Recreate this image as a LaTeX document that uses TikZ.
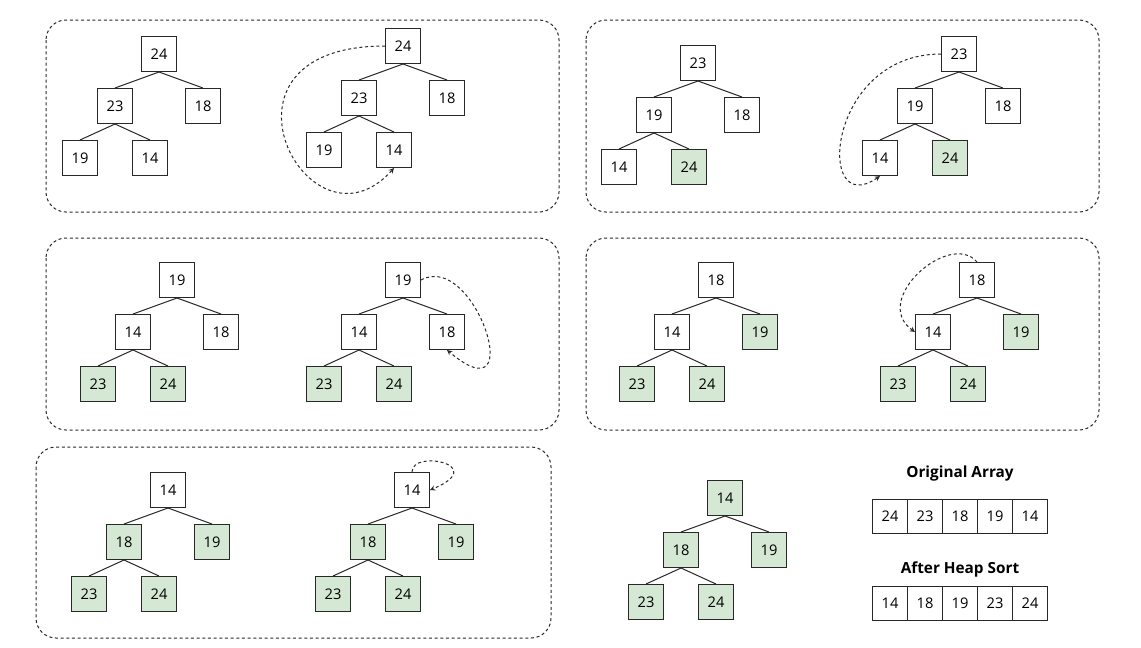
\documentclass[tikz,border=0pt]{standalone}
\usepackage{fontspec}
\setmainfont{Open Sans}
\usepackage{tikz}
\usetikzlibrary{positioning}
\definecolor{doneColor}{HTML}{D5E8D4}
\definecolor{boxLine}{RGB}{40,40,40}
\tikzstyle{pixels} = [x = .75pt, y = -.75pt]
\tikzstyle{heapBox} = [draw=boxLine, fill=white, line width=.75pt, minimum size=26.25pt, inner sep=0pt, font=\fontsize{11}{13}\selectfont]
\tikzstyle{treeEdge} = [draw=boxLine, line width=.75pt]
\tikzstyle{panelStyle} = [draw=boxLine, dash pattern=on 2.25pt off 2pt, rounded corners=15pt, line width=.75pt]
\tikzstyle{swapArrow} = [draw=boxLine, dash pattern=on 2.25pt off 2pt, line width=.75pt, -stealth]
\tikzstyle{arrayCell} = [heapBox, minimum height=25.5pt]
\tikzstyle{titleText} = [font=\bfseries\fontsize{11.5}{14}\selectfont]
\tikzset{heapFill/.code={\ifnum\numexpr#1\relax>0 \pgfkeysalso{fill=doneColor}\fi}}
\newcommand{\heapTree}[9]{
  \node [heapBox, heapFill=#4-4] (#1-1) at (#2, #3) {#5};
  \node [heapBox, heapFill=#4-3] (#1-2) at (#2 - 44, #3 + 52) {#6};
  \node [heapBox, heapFill=#4-2] (#1-3) at (#2 + 44, #3 + 52) {#7};
  \node [heapBox, heapFill=#4-1] (#1-4) at (#2 - 79, #3 + 104) {#8};
  \node [heapBox, heapFill=#4] (#1-5) at (#2 - 9, #3 + 104) {#9};
  \draw [treeEdge] (#1-1.south) -- (#1-2.north);
  \draw [treeEdge] (#1-1.south) -- (#1-3.north);
  \draw [treeEdge] (#1-2.south) -- (#1-4.north);
  \draw [treeEdge] (#1-2.south) -- (#1-5.north);
}
\newcommand{\panel}[4]{\draw [panelStyle] (#1, #2) rectangle (#3, #4);}

\begin{document}
\begin{tikzpicture}[pixels]
  \useasboundingbox (0, 0) rectangle (1141, 647);
  % dashed frames
  \panel{46}{20}{559}{212}\panel{586}{20}{1099}{212}
  \panel{46}{238}{559}{430}\panel{586}{238}{1099}{430}
  \panel{36}{447}{551}{638}
  % trees
  \heapTree{t1}{159}{54}{0}{24}{23}{18}{19}{14}
  \heapTree{t2}{403}{46}{0}{24}{23}{18}{19}{14}
  \heapTree{t3}{698}{63}{1}{23}{19}{18}{14}{24}
  \heapTree{t4}{959}{54}{1}{23}{19}{18}{14}{24}
  \heapTree{t5}{177}{280}{2}{19}{14}{18}{23}{24}
  \heapTree{t6}{403}{280}{2}{19}{14}{18}{23}{24}
  \heapTree{t7}{716}{280}{3}{18}{14}{19}{23}{24}
  \heapTree{t8}{977}{280}{3}{18}{14}{19}{23}{24}
  \heapTree{t9}{168}{490}{4}{14}{18}{19}{23}{24}
  \heapTree{t10}{412}{490}{4}{14}{18}{19}{23}{24}
  \heapTree{sorted}{725}{498}{5}{14}{18}{19}{23}{24}
  % swaps
  \draw [swapArrow] (t2-1.west) .. controls +(-190, 0) and +(-85, 95) .. (t2-5.south);
  \draw [swapArrow] (t4-1.west) .. controls +(-115, 0) and +(-65, 45) .. (t4-4.south);
  \draw [swapArrow] (t6-1.east) .. controls +(54, -30) and +(83, 70) .. (t6-3.south);
  \draw [swapArrow] (t8-1.north) .. controls +(-27, -32) and +(-45, -32) .. (t8-2.west);
  \draw [swapArrow] (t10-1.north) .. controls +(0, -23) and +(60, -25) .. (t10-1.east);
  % arrays
  \node [titleText] (origTitle) at (960, 474) {Original Array};
  \foreach \val [count=\i] in {24,23,18,19,14}
    \node [arrayCell] (orig-\i) at (855 + 35 * \i, 516) {\val};
  \node [titleText] (sortTitle) at (960, 569) {After Heap Sort};
  \foreach \val [count=\i] in {14,18,19,23,24}
    \node [arrayCell] (sort-\i) at (855 + 35 * \i, 603) {\val};
\end{tikzpicture}
\end{document}
